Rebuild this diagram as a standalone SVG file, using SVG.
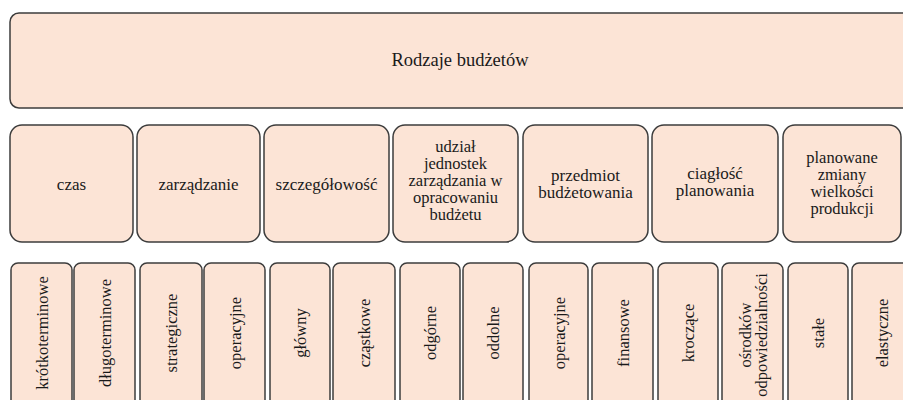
<svg xmlns="http://www.w3.org/2000/svg" width="903" height="400" viewBox="0 0 903 400">
<style>
.b{fill:#FCE4D6;stroke:#3c3c3c;stroke-width:1.5}
text{font-family:"Liberation Serif","Times New Roman",serif;fill:#1a1a1a;text-anchor:middle;font-size:17px}
.t{font-size:18.5px}
.m{font-size:16.5px}
</style>
<rect width="903" height="400" fill="#ffffff"/>
<g id="root"><rect class="b" x="10" y="13" width="902" height="95" rx="9"/><text class="t" x="460" y="66">Rodzaje budżetów</text></g>
<g id="c1"><rect class="b" x="10" y="125" width="123" height="117" rx="12"/><text x="71.5" y="190">czas</text></g>
<g id="c2"><rect class="b" x="137" y="125" width="123" height="117" rx="12"/><text x="198.5" y="190">zarządzanie</text></g>
<g id="c3"><rect class="b" x="264" y="125" width="125" height="117" rx="12"/><text x="326.5" y="190">szczegółowość</text></g>
<g id="c4"><rect class="b" x="393" y="125" width="125" height="117" rx="12"/><text class="m" x="455.5" y="152">udział</text><text class="m" x="455.5" y="169">jednostek</text><text class="m" x="455.5" y="186">zarządzania w</text><text class="m" x="455.5" y="203">opracowaniu</text><text class="m" x="455.5" y="220">budżetu</text></g>
<g id="c5"><rect class="b" x="523" y="125" width="125" height="117" rx="12"/><text x="585.5" y="181">przedmiot</text><text x="585.5" y="198">budżetowania</text></g>
<g id="c6"><rect class="b" x="652" y="125" width="126" height="117" rx="12"/><text x="715" y="179">ciagłość</text><text x="715" y="196">planowania</text></g>
<g id="c7"><rect class="b" x="783" y="125" width="118" height="117" rx="12"/><text class="m" x="842" y="163">planowane</text><text class="m" x="842" y="180">zmiany</text><text class="m" x="842" y="197">wielkości</text><text class="m" x="842" y="214">produkcji</text></g>
<g id="l1"><rect class="b" x="11" y="263" width="61" height="150" rx="7"/><text class="m" transform="translate(41.5,333) rotate(-90)" y="6">krótkoterminowe</text></g>
<g id="l2"><rect class="b" x="74" y="263" width="61" height="150" rx="7"/><text class="m" transform="translate(104.5,333) rotate(-90)" y="6">długoterminowe</text></g>
<g id="l3"><rect class="b" x="140" y="263" width="62" height="150" rx="7"/><text class="m" transform="translate(171,333) rotate(-90)" y="6">strategiczne</text></g>
<g id="l4"><rect class="b" x="204" y="263" width="61" height="150" rx="7"/><text class="m" transform="translate(234.5,333) rotate(-90)" y="6">operacyjne</text></g>
<g id="l5"><rect class="b" x="270" y="263" width="60" height="150" rx="7"/><text class="m" transform="translate(300,333) rotate(-90)" y="6">główny</text></g>
<g id="l6"><rect class="b" x="333" y="263" width="62" height="150" rx="7"/><text class="m" transform="translate(364,333) rotate(-90)" y="6">cząstkowe</text></g>
<g id="l7"><rect class="b" x="400" y="263" width="60" height="150" rx="7"/><text class="m" transform="translate(430,333) rotate(-90)" y="6">odgórne</text></g>
<g id="l8"><rect class="b" x="463" y="263" width="60" height="150" rx="7"/><text class="m" transform="translate(493,333) rotate(-90)" y="6">oddolne</text></g>
<g id="l9"><rect class="b" x="529" y="263" width="59" height="150" rx="7"/><text class="m" transform="translate(558.5,333) rotate(-90)" y="6">operacyjne</text></g>
<g id="l10"><rect class="b" x="592" y="263" width="61" height="150" rx="7"/><text class="m" transform="translate(622.5,333) rotate(-90)" y="6">finansowe</text></g>
<g id="l11"><rect class="b" x="658" y="263" width="60" height="150" rx="7"/><text class="m" transform="translate(688,333) rotate(-90)" y="6">kroczące</text></g>
<g id="l12"><rect class="b" x="722" y="263" width="61" height="150" rx="7"/><text class="m" transform="translate(752.5,335) rotate(-90)"><tspan x="0" y="-2">ośrodków</tspan><tspan x="0" y="14">odpowiedzialności</tspan></text></g>
<g id="l13"><rect class="b" x="788" y="263" width="60" height="150" rx="7"/><text class="m" transform="translate(818,333) rotate(-90)" y="6">stałe</text></g>
<g id="l14"><rect class="b" x="852" y="263" width="60" height="150" rx="7"/><text class="m" transform="translate(882,333) rotate(-90)" y="6">elastyczne</text></g>
</svg>
